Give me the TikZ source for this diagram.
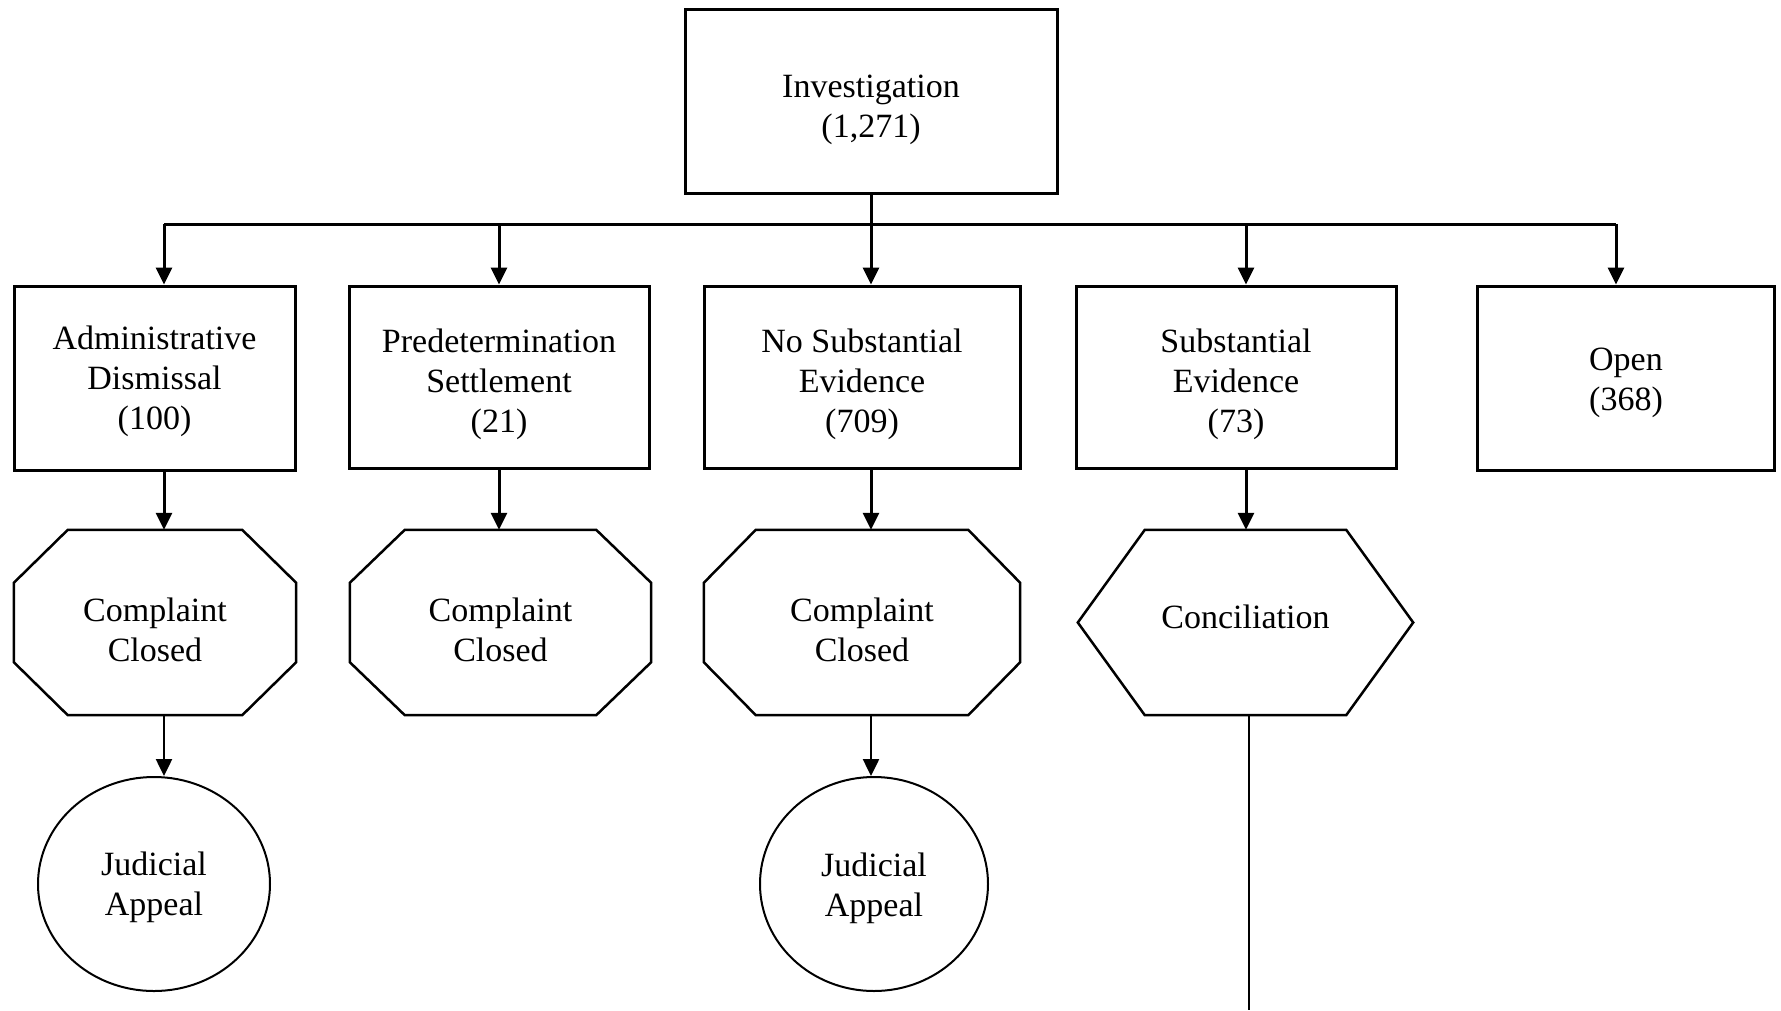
\documentclass[tikz,border=0pt]{standalone}
\usepackage{fontspec}
\setmainfont{Liberation Serif}
\usetikzlibrary{calc,arrows.meta,shapes.geometric}
\newcommand\octopath[3]{% node, cut x, cut y
  \draw[shp] ($(#1.north west)+(#2,0)$) -- ($(#1.north east)+(-#2,0)$) -- ($(#1.north east)+(0,#3)$) -- ($(#1.south east)+(0,-#3)$) -- ($(#1.south east)+(-#2,0)$) -- ($(#1.south west)+(#2,0)$) -- ($(#1.south west)+(0,-#3)$) -- ($(#1.north west)+(0,#3)$) -- cycle;}
\newcommand\dn[2]{\raisebox{-#1}[\height][\depth]{\begin{tabular}{@{}c@{}}#2\end{tabular}}}
\begin{document}
\begin{tikzpicture}[x=1pt,y=-1pt,
  txt/.style={font=\fontsize{34}{40}\selectfont, inner sep=0pt},
  box/.style={txt, draw, line width=3pt, rectangle},
  ghost/.style={txt, draw=none, rectangle},
  shp/.style={line width=2.5pt, line join=miter},
  oval/.style={txt, draw, line width=2pt, ellipse},
  arr/.style={line width=3pt, -{Triangle[length=17pt,width=16pt]}},
  ln/.style={line width=3pt}]
\useasboundingbox[fill=white] (0,0) rectangle (1781,1010);

% top box
\node[box, minimum width=372pt, minimum height=184pt] (inv) at (871,101) {\dn{8pt}{Investigation\\(1,271)}};

% row 1
\node[box, minimum width=281pt, minimum height=184pt] (adm) at (154.5,378) {\dn{3pt}{Administrative\\Dismissal\\(100)}};
\node[box, minimum width=300pt, minimum height=182pt] (pre) at (499,377) {\dn{7pt}{Predetermination\\Settlement\\(21)}};
\node[box, minimum width=316pt, minimum height=182pt] (nse) at (862,377) {\dn{7pt}{No Substantial\\Evidence\\(709)}};
\node[box, minimum width=320pt, minimum height=182pt] (se) at (1236,377) {\dn{7pt}{Substantial\\Evidence\\(73)}};
\node[box, minimum width=297pt, minimum height=184pt] (open) at (1626,378) {\dn{4pt}{Open\\(368)}};

% row 2
\node[ghost, minimum width=282pt, minimum height=185pt] (cc1) at (155,622.5) {\dn{11pt}{Complaint\\Closed}};
\octopath{cc1}{54}{53}
\node[ghost, minimum width=301pt, minimum height=185pt] (cc2) at (500.5,622.5) {\dn{11pt}{Complaint\\Closed}};
\octopath{cc2}{55}{53}
\node[ghost, minimum width=316pt, minimum height=185pt] (cc3) at (862,622.5) {\dn{11pt}{Complaint\\Closed}};
\octopath{cc3}{52}{53}
\node[ghost, minimum width=335pt, minimum height=185pt] (con) at (1245.5,622.5) {\dn{-2pt}{Conciliation}};
\draw[shp] ($(con.north west)+(67,0)$) -- ($(con.north east)+(-67,0)$) -- (con.east) -- ($(con.south east)+(-67,0)$) -- ($(con.south west)+(67,0)$) -- (con.west) -- cycle;

% row 3
\node[oval, minimum width=232pt, minimum height=214pt] (ja1) at (154,884) {\dn{3pt}{Judicial\\Appeal}};
\node[oval, minimum width=228pt, minimum height=214pt] (ja2) at (874,884) {\dn{4pt}{Judicial\\Appeal}};

% branch coordinates
\coordinate (b1) at (164,224);
\coordinate (b2) at (499,224);
\coordinate (b3) at (871,224);
\coordinate (b4) at (1246,224);
\coordinate (b5) at (1616,224);
\coordinate (cend) at (1249,1010);

% connectors
\draw[ln] (b1) -- (b5);
\draw[arr] (inv.south -| b3) -- (b3 |- nse.north);
\draw[arr] (b1) -- (b1 |- adm.north);
\draw[arr] (b2) -- (b2 |- pre.north);
\draw[arr] (b4) -- (b4 |- se.north);
\draw[arr] (b5) -- (b5 |- open.north);

\draw[arr] (adm.south -| b1) -- (b1 |- cc1.north);
\draw[arr] (pre.south -| b2) -- (b2 |- cc2.north);
\draw[arr] (nse.south -| b3) -- (b3 |- cc3.north);
\draw[arr] (se.south -| b4) -- (b4 |- con.north);

\draw[arr, line width=2.5pt] (cc1.south -| b1) -- (b1 |- ja1.north);
\draw[arr, line width=2.5pt] (cc3.south -| b3) -- (b3 |- ja2.north);
\draw[line width=2.5pt] (con.south -| cend) -- (cend);
\end{tikzpicture}
\end{document}
